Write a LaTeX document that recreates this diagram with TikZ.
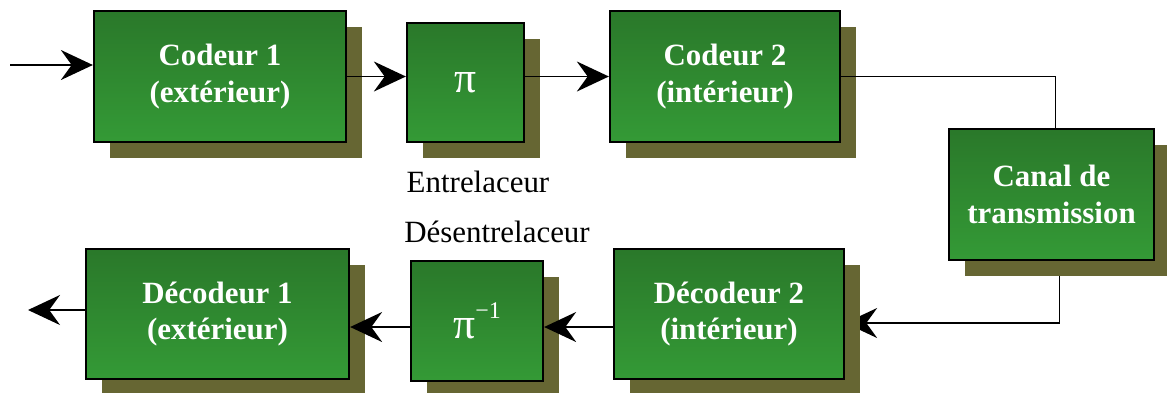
\documentclass[tikz,border=0pt]{standalone}
\usepackage{fontspec}
\setmainfont{Liberation Serif}
\usetikzlibrary{arrows.meta, positioning, shadows}
\definecolor{boxtop}{HTML}{2A782A}
\definecolor{boxbottom}{HTML}{349A36}
\definecolor{shadowolive}{HTML}{666633}
\pgfdeclarelayer{background}
\pgfsetlayers{background,main}

\begin{document}
\begin{tikzpicture}[
  box/.style={draw, line width=1.6pt, top color=boxtop, bottom color=boxbottom, text=white,
    font=\fontsize{22}{26}\selectfont\bfseries, align=center, inner sep=0pt,
    drop shadow={shadow xshift=0.39cm, shadow yshift=-0.39cm, fill=shadowolive, opacity=1}},
  perm/.style={box, font=\fontsize{31}{34}\selectfont},
  lbl/.style={font=\fontsize{22}{26}\selectfont},
  flow/.style={line width=1.3pt, -{Stealth[length=8mm, width=7.5mm, inset=2.7mm]}}]
  \useasboundingbox (0,0) rectangle (29.175,-9.8);

  % codage
  \coordinate (in) at (0.25,-1.625);
  \node[box, minimum width=6.3cm, minimum height=3.275cm] (cod1) at (5.5,-1.9125) {Codeur 1\\(extérieur)};
  \node[perm, minimum width=2.925cm, minimum height=2.975cm] (entr) at (11.6375,-2.0625) {π};
  \node[box, minimum width=5.75cm, minimum height=3.275cm] (cod2) at (18.125,-1.9125) {Codeur 2\\(intérieur)};
  \node[lbl] (entrlbl) at (11.95,-4.55) {Entrelaceur};
  \draw[flow] (in) -- (in -| cod1.west);
  \draw[flow] (cod1.east) -- (cod1.east -| entr.west);
  \draw[flow] (cod1.east -| entr.east) -- (cod1.east -| cod2.west);

  % canal
  \node[box, minimum width=5.125cm, minimum height=3.275cm] (canal) at (26.2875,-4.8625) {Canal de\\transmission};
  \draw[line width=1.3pt] (cod2.east) -| ([xshift=0.1cm]canal.north);

  % decodage
  \node[box, minimum width=5.75cm, minimum height=3.25cm] (dec2) at (18.225,-7.85) {Décodeur 2\\(intérieur)};
  \node[perm, minimum width=3.3cm, minimum height=3cm] (desentr) at (11.925,-8.025) {π\raisebox{0.45em}{\fontsize{17}{20}\selectfont −1}};
  \node[box, minimum width=6.575cm, minimum height=3.25cm] (dec1) at (5.4375,-7.85) {Décodeur 1\\(extérieur)};
  \node[lbl] (desentrlbl) at (12.425,-5.8) {Désentrelaceur};
  \coordinate (out) at (0.7,-7.75);
  \begin{pgfonlayer}{background}
    \draw[flow] ([xshift=0.2cm]canal.south) |- ([yshift=-0.225cm]dec2.east);
  \end{pgfonlayer}
  \draw[flow] ([yshift=-0.325cm]dec2.west) -- ([yshift=-0.325cm]dec2.west -| desentr.east);
  \draw[flow] ([yshift=-0.325cm]dec2.west -| desentr.west) -- ([yshift=-0.325cm]dec2.west -| dec1.east);
  \draw[flow] ([yshift=0.1cm]dec1.west) -- (out);
\end{tikzpicture}
\end{document}
